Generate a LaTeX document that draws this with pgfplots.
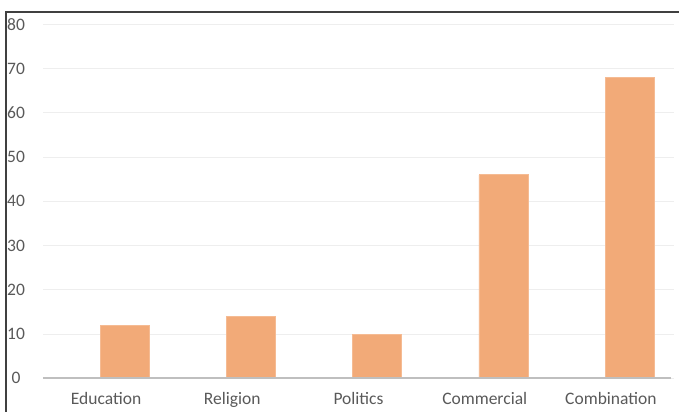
\documentclass[border=0pt]{standalone}
\usepackage{fontspec}
\setmainfont{Carlito}
\usepackage{pgfplots}
\pgfplotsset{compat=1.18}
\definecolor{barfill}{RGB}{242,170,120}
\definecolor{gridc}{RGB}{238,238,238}
\definecolor{axisc}{RGB}{191,191,191}
\definecolor{labc}{RGB}{89,89,89}
\definecolor{framec}{RGB}{64,64,64}
\begin{document}
\begin{tikzpicture}
\begin{axis}[
  at={(0,0)}, anchor=south west,
  scale only axis,
  width=631bp, height=354bp,
  xmin=-0.5, xmax=4.5,
  ymin=0, ymax=80,
  ytick={0,10,...,80},
  xtick={0,1,2,3,4},
  xticklabels={Education,Religion,Politics,Commercial,Combination},
  axis line style={draw=none},
  ymajorgrids, grid style={gridc, line width=1bp},
  major tick length=0pt,
  tick label style={font=\fontsize{17.5bp}{20bp}\selectfont, text=labc},
  /pgf/number format/assume math mode=true,
  yticklabel style={anchor=center, xshift=-27bp},
  xticklabel style={anchor=base, yshift=-26.5bp},
  clip=false,
]
\addplot[ybar, bar width=49bp, bar shift=18.6bp, fill=barfill, draw=barfill!80!white, line width=0.6bp]
  coordinates {(0,12) (1,14) (2,10) (3,46) (4,68)};
\draw[axisc, line width=2bp] (axis cs:-0.5,0) -- (axis cs:4.48,0);
\end{axis}
\draw[framec, line width=2bp] (-36.5bp,-40bp) -- (-36.5bp,366.3bp) -- (640bp,366.3bp);
\pgfresetboundingbox
\path (-43bp,-33.7bp) rectangle (636bp,378.3bp);
\end{tikzpicture}
\end{document}
